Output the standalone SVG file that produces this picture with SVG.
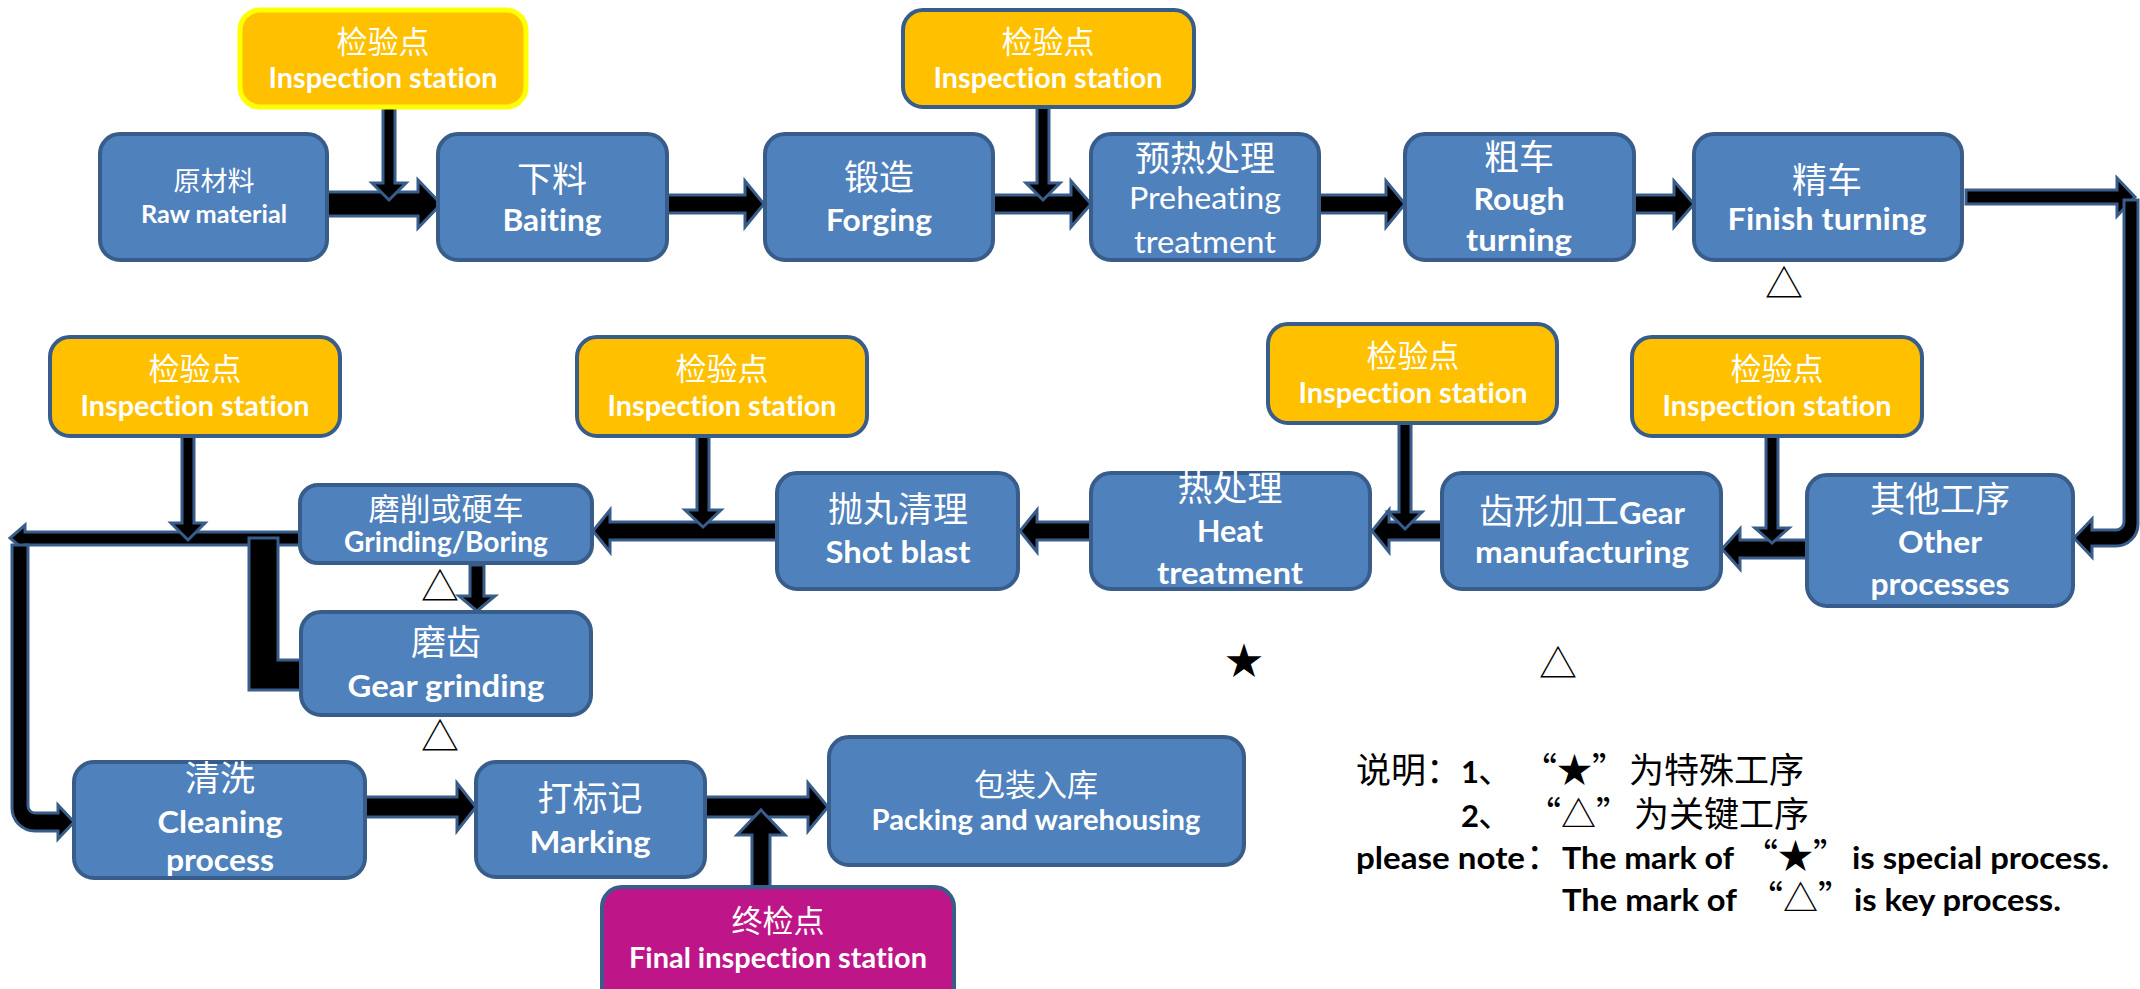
<svg xmlns="http://www.w3.org/2000/svg" width="2140" height="989" viewBox="0 0 2140 989">
<style>
text,tspan{font-variant-ligatures:none}
.box{fill:#4F81BD;stroke:#385D8A;stroke-width:4}
.insp{fill:#FFC000;stroke:#385D8A;stroke-width:4}
.fin{fill:#BE1589;stroke:#385D8A;stroke-width:4}
.conn{fill:#000;stroke:#385D8A;stroke-width:3;stroke-linejoin:miter}
.zh{font-family:"Noto Sans CJK SC",sans-serif;fill:#fff;text-anchor:middle}
.en{font-family:Lato,"Liberation Sans",sans-serif;font-weight:bold;fill:#fff;text-anchor:middle}
.enr{font-family:Lato,"Liberation Sans",sans-serif;font-weight:normal;fill:#fff;text-anchor:middle}
.mk{font-family:"Noto Sans CJK SC",sans-serif;fill:#000;text-anchor:middle}
.lz{font-family:"Noto Sans CJK SC",sans-serif;fill:#000;font-size:35px}
.le{font-family:Lato,"Liberation Sans",sans-serif;font-weight:bold;fill:#000;font-size:31px}
</style>
<rect width="2140" height="989" fill="#fff"/>
<g id="connectors">
<polygon class="conn" points="327,192 418,192 418,180 441,204 418,228 418,216 327,216"/>
<polygon class="conn" points="667,195 745,195 745,181 764,204 745,227 745,213 667,213"/>
<polygon class="conn" points="993,195 1071,195 1071,181 1091,204 1071,227 1071,213 993,213"/>
<polygon class="conn" points="1319,195 1386,195 1386,181 1405,204 1386,227 1386,213 1319,213"/>
<polygon class="conn" points="1634,195 1674,195 1674,181 1694,204 1674,227 1674,213 1634,213"/>
<polygon class="conn" points="1966,190 2117,190 2117,178 2135,197 2117,216 2117,204 1966,204"/>
<path class="conn" d="M2124,200 L2138,200 L2138,524 A22,22 0 0 1 2116,546 L2092,546 L2092,557 L2074,538 L2092,519 L2092,530 L2116,530 A8,8 0 0 0 2124,522 Z"/>
<polygon class="conn" points="1807,540 1740,540 1740,529 1722,549 1740,569 1740,558 1807,558"/>
<polygon class="conn" points="1442,522 1389,522 1389,510 1372,531 1389,552 1389,540 1442,540"/>
<polygon class="conn" points="1091,522 1037,522 1037,510 1020,531 1037,552 1037,540 1091,540"/>
<polygon class="conn" points="777,522 610,522 610,510 593,531 610,552 610,540 777,540"/>
<polygon class="conn" points="300,532 25,532 25,525 10,538 25,551 25,545 300,545"/>
<path class="conn" d="M12,545 L28,545 L28,806 A7,7 0 0 0 35,813 L58,813 L58,805 L74,822 L58,839 L58,831 L35,831 A23,23 0 0 1 12,808 Z"/>
<polygon class="conn" points="249,538 278,538 278,660 301,660 301,690 249,690"/>
<polygon class="conn" points="470,565 484,565 484,596 495,596 477,611 459,596 470,596"/>
<polygon class="conn" points="365,797 457,797 457,783 476,807 457,831 457,817 365,817"/>
<polygon class="conn" points="705,797 808,797 808,783 828,807 808,831 808,817 705,817"/>
<polygon class="conn" points="752,887 752,835 737,835 761,810 785,835 770,835 770,887"/>
<polygon class="conn" points="383,107 395,107 395,183 406,183 389,200 372,183 383,183"/>
<polygon class="conn" points="1037,107 1049,107 1049,183 1060,183 1043,200 1026,183 1037,183"/>
<polygon class="conn" points="182,436 194,436 194,523 205,523 188,540 171,523 182,523"/>
<polygon class="conn" points="697,436 709,436 709,510 721,510 703,527 685,510 697,510"/>
<polygon class="conn" points="1399,423 1411,423 1411,512 1422,512 1405,529 1388,512 1399,512"/>
<polygon class="conn" points="1766,436 1778,436 1778,528 1789,528 1772,543 1755,528 1766,528"/>
</g>
<g id="insp1"><rect x="240" y="10" width="286" height="97" rx="20" fill="#FFC000" stroke="#FFFF00" stroke-width="5"/>
<text class="zh" x="383" y="53" font-size="31">检验点</text>
<text class="en" x="383" y="88" font-size="28" textLength="229" lengthAdjust="spacingAndGlyphs">Inspection station</text></g>
<g id="insp2"><rect class="insp" x="903" y="10" width="291" height="97" rx="20"/>
<text class="zh" x="1048" y="53" font-size="31">检验点</text>
<text class="en" x="1048" y="88" font-size="28" textLength="229" lengthAdjust="spacingAndGlyphs">Inspection station</text></g>
<g id="raw"><rect class="box" x="100" y="134" width="227" height="126" rx="20"/>
<text class="zh" x="214" y="191" font-size="27">原材料</text>
<text class="en" x="214" y="223" font-size="24" textLength="146" lengthAdjust="spacingAndGlyphs">Raw material</text></g>
<g id="baiting"><rect class="box" x="438" y="134" width="229" height="126" rx="20"/>
<text class="zh" x="552" y="192" font-size="35">下料</text>
<text class="en" x="552" y="231" font-size="31" textLength="99" lengthAdjust="spacingAndGlyphs">Baiting</text></g>
<g id="forging"><rect class="box" x="765" y="134" width="228" height="126" rx="20"/>
<text class="zh" x="879" y="190" font-size="35">锻造</text>
<text class="en" x="879" y="231" font-size="31" textLength="106" lengthAdjust="spacingAndGlyphs">Forging</text></g>
<g id="preheating"><rect class="box" x="1091" y="134" width="228" height="126" rx="20"/>
<text class="zh" x="1205" y="171" font-size="35">预热处理</text>
<text class="enr" x="1205" y="209" font-size="31" textLength="152" lengthAdjust="spacingAndGlyphs">Preheating</text>
<text class="enr" x="1205" y="253" font-size="31" textLength="142" lengthAdjust="spacingAndGlyphs">treatment</text></g>
<g id="rough"><rect class="box" x="1405" y="134" width="229" height="126" rx="20"/>
<text class="zh" x="1519" y="170" font-size="35">粗车</text>
<text class="en" x="1519" y="210" font-size="31" textLength="91" lengthAdjust="spacingAndGlyphs">Rough</text>
<text class="en" x="1519" y="251" font-size="31" textLength="106" lengthAdjust="spacingAndGlyphs">turning</text></g>
<g id="finish"><rect class="box" x="1694" y="134" width="268" height="126" rx="20"/>
<text class="zh" x="1827" y="193" font-size="35">精车</text>
<text class="en" x="1827" y="230" font-size="31" textLength="199" lengthAdjust="spacingAndGlyphs">Finish turning</text></g>
<g id="insp3"><rect class="insp" x="50" y="337" width="290" height="99" rx="20"/>
<text class="zh" x="195" y="380" font-size="31">检验点</text>
<text class="en" x="195" y="416" font-size="28" textLength="229" lengthAdjust="spacingAndGlyphs">Inspection station</text></g>
<g id="insp4"><rect class="insp" x="577" y="337" width="290" height="99" rx="20"/>
<text class="zh" x="722" y="380" font-size="31">检验点</text>
<text class="en" x="722" y="416" font-size="28" textLength="229" lengthAdjust="spacingAndGlyphs">Inspection station</text></g>
<g id="insp5"><rect class="insp" x="1268" y="324" width="289" height="99" rx="20"/>
<text class="zh" x="1413" y="367" font-size="31">检验点</text>
<text class="en" x="1413" y="403" font-size="28" textLength="229" lengthAdjust="spacingAndGlyphs">Inspection station</text></g>
<g id="insp6"><rect class="insp" x="1632" y="337" width="290" height="99" rx="20"/>
<text class="zh" x="1777" y="380" font-size="31">检验点</text>
<text class="en" x="1777" y="416" font-size="28" textLength="229" lengthAdjust="spacingAndGlyphs">Inspection station</text></g>
<g id="grinding"><rect class="box" x="300" y="485" width="292" height="78" rx="18"/>
<text class="zh" x="446" y="520" font-size="31">磨削或硬车</text>
<text class="en" x="446" y="552" font-size="28" textLength="204" lengthAdjust="spacingAndGlyphs">Grinding/Boring</text></g>
<g id="shotblast"><rect class="box" x="777" y="473" width="241" height="116" rx="20"/>
<text class="zh" x="898" y="522" font-size="35">抛丸清理</text>
<text class="en" x="898" y="563" font-size="31" textLength="145" lengthAdjust="spacingAndGlyphs">Shot blast</text></g>
<g id="heat"><rect class="box" x="1091" y="473" width="279" height="116" rx="20"/>
<text class="zh" x="1230" y="501" font-size="35">热处理</text>
<text class="en" x="1230" y="542" font-size="31" textLength="66" lengthAdjust="spacingAndGlyphs">Heat</text>
<text class="en" x="1230" y="584" font-size="31" textLength="146" lengthAdjust="spacingAndGlyphs">treatment</text></g>
<g id="gear"><rect class="box" x="1442" y="473" width="279" height="116" rx="20"/>
<text x="1582" y="524" style="text-anchor:middle;fill:#fff"><tspan font-family="Noto Sans CJK SC, sans-serif" font-size="35">齿形加工</tspan><tspan font-family="Lato, Liberation Sans, sans-serif" font-weight="bold" font-size="31">Gear</tspan></text>
<text class="en" x="1582" y="563" font-size="31" textLength="214" lengthAdjust="spacingAndGlyphs">manufacturing</text></g>
<g id="other"><rect class="box" x="1807" y="475" width="266" height="131" rx="20"/>
<text class="zh" x="1940" y="512" font-size="35">其他工序</text>
<text class="en" x="1940" y="553" font-size="31" textLength="84" lengthAdjust="spacingAndGlyphs">Other</text>
<text class="en" x="1940" y="595" font-size="31" textLength="139" lengthAdjust="spacingAndGlyphs">processes</text></g>
<g id="gearGrinding"><rect class="box" x="301" y="612" width="290" height="103" rx="20"/>
<text class="zh" x="446" y="655" font-size="35">磨齿</text>
<text class="en" x="446" y="697" font-size="31" textLength="197" lengthAdjust="spacingAndGlyphs">Gear grinding</text></g>
<g id="cleaning"><rect class="box" x="74" y="762" width="291" height="116" rx="20"/>
<text class="zh" x="220" y="791" font-size="35">清洗</text>
<text class="en" x="220" y="833" font-size="31" textLength="125" lengthAdjust="spacingAndGlyphs">Cleaning</text>
<text class="en" x="220" y="871" font-size="31" textLength="108" lengthAdjust="spacingAndGlyphs">process</text></g>
<g id="marking"><rect class="box" x="476" y="762" width="229" height="115" rx="20"/>
<text class="zh" x="590" y="811" font-size="35">打标记</text>
<text class="en" x="590" y="853" font-size="31" textLength="121" lengthAdjust="spacingAndGlyphs">Marking</text></g>
<g id="packing"><rect class="box" x="829" y="737" width="415" height="128" rx="20"/>
<text class="zh" x="1036" y="796" font-size="31">包装入库</text>
<text class="en" x="1036" y="830" font-size="28" textLength="329" lengthAdjust="spacingAndGlyphs">Packing and warehousing</text></g>
<g id="finalInspection"><rect class="fin" x="602" y="887" width="352" height="125" rx="20"/>
<text class="zh" x="778" y="932" font-size="31">终检点</text>
<text class="en" x="778" y="968" font-size="28" textLength="298" lengthAdjust="spacingAndGlyphs">Final inspection station</text></g>
<g id="marks">
<text class="mk" x="1784" y="297" font-size="38">△</text>
<text class="mk" x="440" y="600" font-size="38">△</text>
<text class="mk" x="440" y="750" font-size="38">△</text>
<text class="mk" x="1558" y="677" font-size="38">△</text>
<text class="mk" x="1244" y="674" font-size="38">★</text>
</g>
<g id="legend">
<text y="783"><tspan class="lz" x="1356">说明：</tspan><tspan class="le" x="1461">1</tspan><tspan class="lz" x="1478">、</tspan><tspan class="lz" x="1522">“★”</tspan><tspan class="lz" x="1629">为特殊工序</tspan></text>
<text y="827"><tspan class="le" x="1461">2</tspan><tspan class="lz" x="1478">、</tspan><tspan class="lz" x="1526">“△”</tspan><tspan class="lz" x="1634">为关键工序</tspan></text>
<text y="869"><tspan class="le" x="1356" textLength="169" lengthAdjust="spacingAndGlyphs">please note</tspan><tspan class="lz" x="1526">：</tspan><tspan class="le" x="1562" textLength="172" lengthAdjust="spacingAndGlyphs">The mark of</tspan><tspan class="lz" x="1743">“★”</tspan><tspan class="le" x="1852" textLength="257" lengthAdjust="spacingAndGlyphs">is special process.</tspan></text>
<text y="911"><tspan class="le" x="1562" textLength="175" lengthAdjust="spacingAndGlyphs">The mark of</tspan><tspan class="lz" x="1748">“△”</tspan><tspan class="le" x="1854" textLength="207" lengthAdjust="spacingAndGlyphs">is key process.</tspan></text>
</g>
</svg>
